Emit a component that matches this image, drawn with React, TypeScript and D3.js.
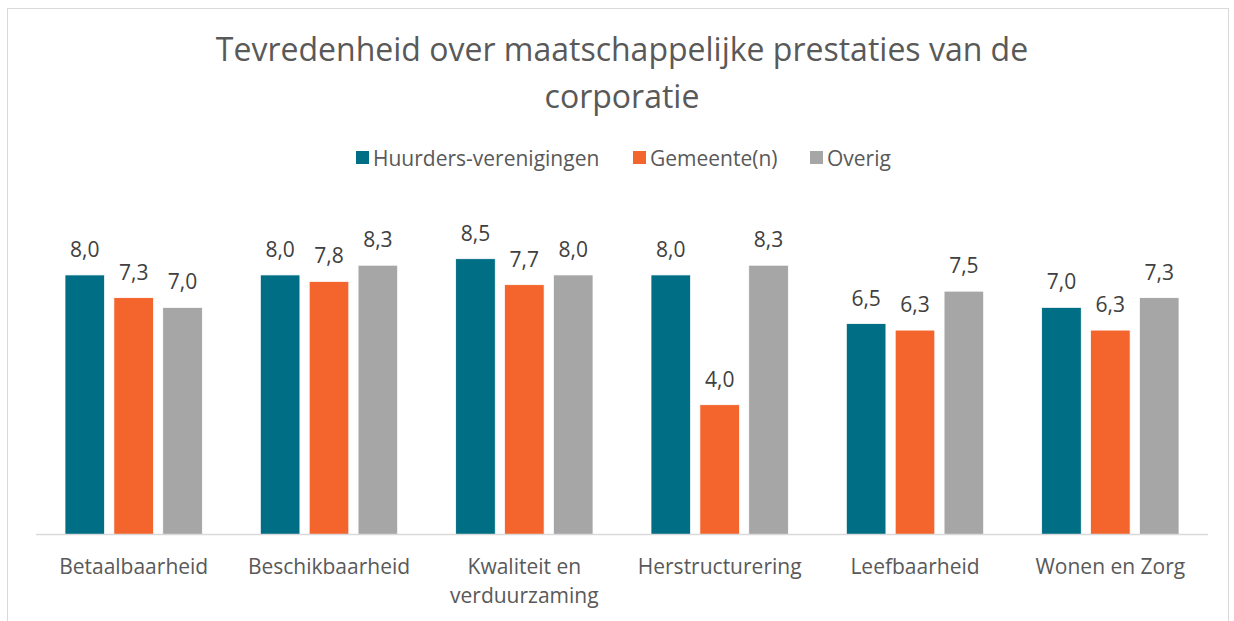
import React from "react";
import * as d3 from "d3";

const categories: string[][] = [
  ["Betaalbaarheid"],
  ["Beschikbaarheid"],
  ["Kwaliteit en", "verduurzaming"],
  ["Herstructurering"],
  ["Leefbaarheid"],
  ["Wonen en Zorg"],
];
const seriesNames = ["Huurders-verenigingen", "Gemeente(n)", "Overig"];
const huurders = [8.0, 8.0, 8.5, 8.0, 6.5, 7.0];
const gemeente = [7.3, 7.8, 7.7, 4.0, 6.3, 6.3];
const overig = [7.0, 8.3, 8.0, 8.3, 7.5, 7.3];
const colors = ["#006E85", "#F4652E", "#A6A6A6"];

const W = 1234;
const H = 621;
const FONT = "'Open Sans', sans-serif";

export default function App() {
  const values = [huurders, gemeente, overig];
  const keys = categories.map((c) => c.join(" "));

  // category bands along the axis
  const x0 = d3.scaleBand<string>().domain(keys).range([36, 1208]);
  const pad = 29;
  const x1 = d3
    .scaleBand<string>()
    .domain(seriesNames)
    .range([pad, x0.bandwidth() - pad])
    .paddingInner(0.19);
  const y = d3.scaleLinear().domain([0, 9]).range([534.5, 242.5]);

  const fmt = (v: number) => v.toFixed(1).replace(".", ",");

  // legend layout
  const legendX = [356, 633, 810];

  return (
    <svg
      width={W}
      height={H}
      style={{ position: "absolute", left: 0, top: 0, background: "#fff" }}
      fontFamily={FONT}
    >
      <rect x={7.5} y={8.5} width={1221} height={640} fill="#fff" stroke="#d9d9d9" />

      <text x={622} y={61} textAnchor="middle" fontSize={32} fill="#595959">
        Tevredenheid over maatschappelijke prestaties van de
      </text>
      <text x={622} y={108} textAnchor="middle" fontSize={32} fill="#595959">
        corporatie
      </text>

      {seriesNames.map((s, i) => (
        <g key={s} transform={`translate(${legendX[i]},158)`}>
          <rect x={0} y={-7} width={13} height={13} fill={colors[i]} />
          <text x={17} y={7.5} fontSize={21} fill="#595959">
            {s}
          </text>
        </g>
      ))}

      {keys.map((k, ci) => (
        <g key={k} transform={`translate(${x0(k)},0)`}>
          {seriesNames.map((s, si) => {
            const v = values[si][ci];
            const bx = x1(s)!;
            return (
              <g key={s}>
                <rect
                  x={bx}
                  y={y(v)}
                  width={x1.bandwidth()}
                  height={y(0) - y(v)}
                  fill={colors[si]}
                  stroke="#fff"
                  strokeWidth={0.75}
                />
                <text
                  x={bx + x1.bandwidth() / 2}
                  y={y(v) - 18}
                  textAnchor="middle"
                  fontSize={21}
                  fill="#404040"
                >
                  {fmt(v)}
                </text>
              </g>
            );
          })}
          {categories[ci].map((line, li) => (
            <text
              key={li}
              x={x0.bandwidth() / 2}
              y={573.5 + li * 29}
              textAnchor="middle"
              fontSize={21}
              fill="#595959"
            >
              {line}
            </text>
          ))}
        </g>
      ))}

      <line x1={36} x2={1208} y1={534.5} y2={534.5} stroke="#d9d9d9" strokeWidth={1.5} />
    </svg>
  );
}
